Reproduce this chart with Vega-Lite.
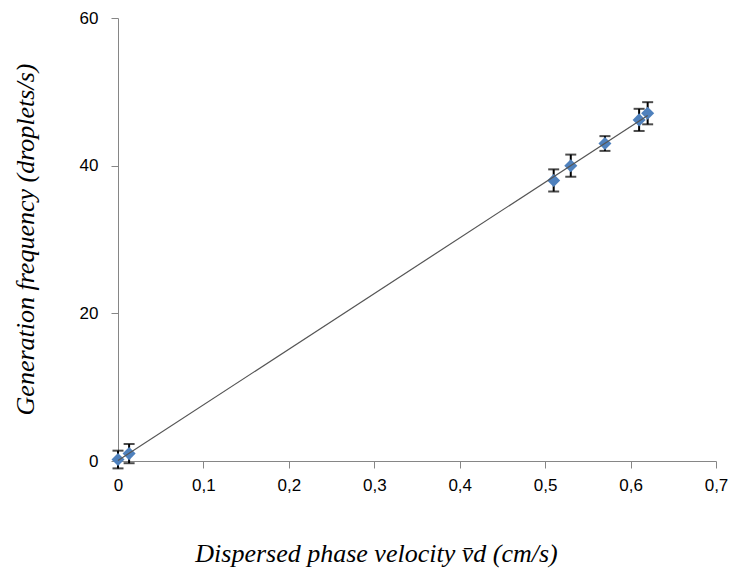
{
  "$schema": "https://vega.github.io/schema/vega-lite/v6.json",
  "width": 598,
  "height": 443,
  "autosize": "none",
  "padding": {"left": 118, "top": 18, "right": 17, "bottom": 114},
  "background": "white",
  "config": {"view": {"stroke": null}},
  "data": {"values": [
    {"v": 0.0, "f": 0.2, "lo": -1.0, "hi": 1.4},
    {"v": 0.013, "f": 1.0, "lo": -0.3, "hi": 2.3},
    {"v": 0.51, "f": 38.0, "lo": 36.5, "hi": 39.5},
    {"v": 0.53, "f": 40.0, "lo": 38.5, "hi": 41.5},
    {"v": 0.57, "f": 43.0, "lo": 42.0, "hi": 44.0},
    {"v": 0.61, "f": 46.2, "lo": 44.7, "hi": 47.7},
    {"v": 0.62, "f": 47.1, "lo": 45.6, "hi": 48.6}
  ]},
  "encoding": {
    "x": {
      "field": "v", "type": "quantitative",
      "scale": {"domain": [0, 0.7], "nice": false, "zero": true},
      "axis": {
        "values": [0, 0.1, 0.2, 0.3, 0.4, 0.5, 0.6, 0.7],
        "labelExpr": "datum.value == 0 ? '0' : replace(format(datum.value, '.1f'), '.', ',')",
        "labelFlush": false,
        "grid": false, "domainColor": "#868686", "tickColor": "#868686", "tickSize": 7,
        "labelFont": "Liberation Sans", "labelFontSize": 17, "labelColor": "#000", "labelPadding": 9,
        "title": "Dispersed phase velocity v\u0304d (cm/s)",
        "titleFont": "Liberation Serif", "titleFontSize": 26, "titleFontStyle": "italic", "titleFontWeight": "normal",
        "titleColor": "#000", "titleX": 258, "titleY": 79, "titleBaseline": "top"
      }
    },
    "y": {
      "field": "f", "type": "quantitative",
      "scale": {"domain": [0, 60], "nice": false},
      "axis": {
        "values": [0, 20, 40, 60],
        "labelFlush": false,
        "grid": false, "domainColor": "#868686", "tickColor": "#868686", "tickSize": 7,
        "labelFont": "Liberation Sans", "labelFontSize": 17, "labelColor": "#000", "labelPadding": 13,
        "title": "Generation frequency (droplets/s)",
        "titleFont": "Liberation Serif", "titleFontSize": 26, "titleFontStyle": "italic", "titleFontWeight": "normal",
        "titleColor": "#000", "titleX": -80, "titleY": 221
      }
    }
  },
  "layer": [
    {
      "mark": {"type": "rule", "color": "#000", "strokeWidth": 2},
      "encoding": {"y": {"field": "lo", "type": "quantitative"}, "y2": {"field": "hi"}}
    },
    {
      "mark": {"type": "tick", "orient": "horizontal", "color": "#000", "size": 11, "thickness": 2},
      "encoding": {"y": {"field": "lo", "type": "quantitative"}}
    },
    {
      "mark": {"type": "tick", "orient": "horizontal", "color": "#000", "size": 11, "thickness": 2},
      "encoding": {"y": {"field": "hi", "type": "quantitative"}}
    },
    {
      "mark": {"type": "point", "shape": "diamond", "filled": true, "color": "#4F81BD", "size": 170, "opacity": 1}
    },
    {
      "transform": [{"regression": "f", "on": "v", "extent": [0, 0.62]}],
      "mark": {"type": "line", "color": "#555555", "strokeWidth": 1.2}
    }
  ]
}
